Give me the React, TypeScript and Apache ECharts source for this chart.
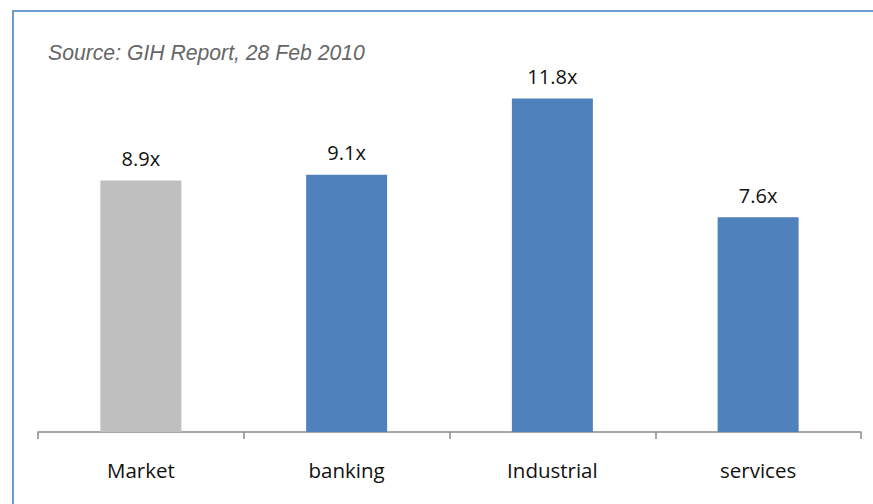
import React, { useEffect, useRef } from "react";
import * as echarts from "echarts";

const categories = ["Market", "banking", "Industrial", "services"];
const values = [8.9, 9.1, 11.8, 7.6];
const barColors = ["#bfbfbf", "#4f81bd", "#4f81bd", "#4f81bd"];
const sourceText = "Source: GIH Report, 28 Feb 2010";

export default function App() {
  const ref = useRef<HTMLDivElement>(null);
  useEffect(() => {
    if (!ref.current) return;
    const chart = echarts.init(ref.current, null, { renderer: "svg" });
    chart.setOption({
      animation: false,
      backgroundColor: "#ffffff",
      grid: { left: 38, right: 12, top: 8, bottom: 72 },
      xAxis: {
        type: "category",
        data: categories,
        axisLine: { show: true, lineStyle: { color: "#8a8a8a", width: 1.5 } },
        axisTick: { show: true, alignWithLabel: false, length: 7, lineStyle: { color: "#8a8a8a", width: 1.5 } },
        axisLabel: {
          color: "#111111",
          fontFamily: "Open Sans",
          fontSize: 20.5,
          margin: 27,
        },
      },
      yAxis: {
        type: "value",
        min: 0,
        max: 15,
        show: false,
        splitLine: { show: false },
      },
      graphic: [
        {
          type: "line",
          shape: { x1: 13, y1: 11, x2: 873, y2: 11 },
          style: { stroke: "#6a9bd3", lineWidth: 2 },
        },
        {
          type: "line",
          shape: { x1: 13, y1: 10, x2: 13, y2: 504 },
          style: { stroke: "#6a9bd3", lineWidth: 2 },
        },
        {
          type: "text",
          left: 48,
          top: 42,
          style: {
            text: sourceText,
            fill: "#666666",
            font: "italic 21.2px 'Liberation Sans', Arial, sans-serif",
          },
        },
      ],
      series: [
        {
          type: "bar",
          barWidth: 81,
          data: values.map((v, i) => ({ value: v, itemStyle: { color: barColors[i] } })),
          label: {
            show: true,
            position: "top",
            distance: 12,
            formatter: (p: any) => p.value.toFixed(1) + "x",
            color: "#111111",
            fontFamily: "Open Sans",
            fontSize: 20,
          },
        },
      ],
    });
    return () => chart.dispose();
  }, []);
  return (
    <div
      ref={ref}
      style={{ position: "fixed", left: 0, top: 0, width: 873, height: 504 }}
    />
  );
}
